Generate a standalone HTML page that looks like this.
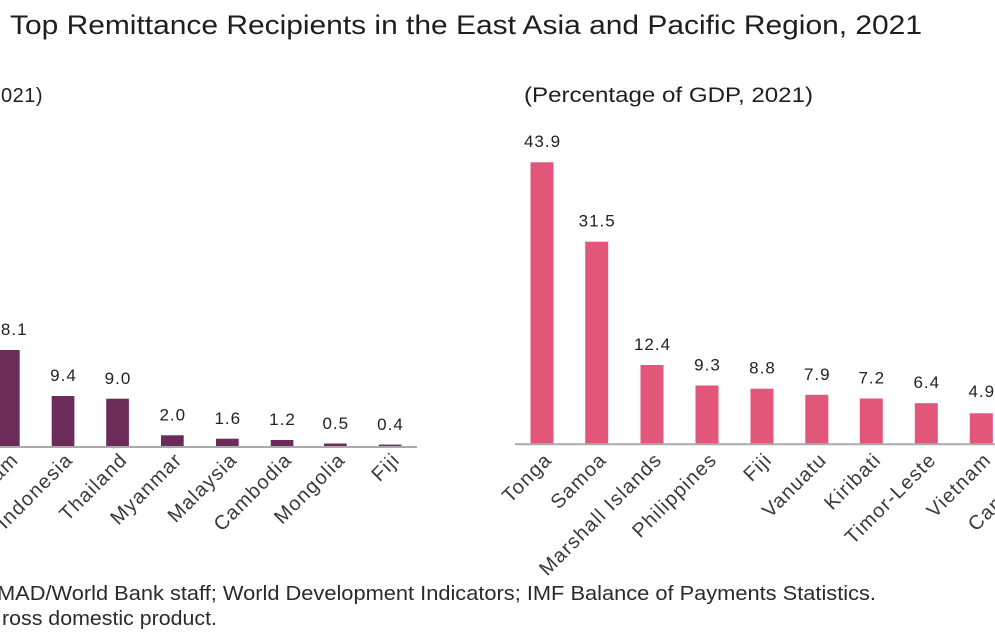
<!DOCTYPE html>
<html>
<head>
<meta charset="utf-8">
<style>
  html, body { margin: 0; padding: 0; background: #ffffff; }
  body { width: 995px; height: 640px; overflow: hidden; }
  svg { display: block; }
  text { font-family: "Liberation Sans", sans-serif; }
  .val { font-size: 17px; fill: #222; letter-spacing: 1px; }
  .cat { font-size: 20px; fill: #3a3a3a; letter-spacing: 1.2px; }
</style>
</head>
<body>
<svg width="995" height="640" viewBox="0 0 995 640" xmlns="http://www.w3.org/2000/svg">
  <rect x="0" y="0" width="995" height="640" fill="#ffffff"/>

  <!-- Title -->
  <text x="10" y="34" font-size="27" fill="#1e1e1e" textLength="912" lengthAdjust="spacingAndGlyphs">Top Remittance Recipients in the East Asia and Pacific Region, 2021</text>

  <!-- Subtitles -->
  <text x="43" y="102" font-size="20" fill="#1e1e1e" text-anchor="end" letter-spacing="0.5">(US$ billions, 2021)</text>
  <text x="524" y="102" font-size="21" fill="#1e1e1e" textLength="289" lengthAdjust="spacingAndGlyphs">(Percentage of GDP, 2021)</text>

  <!-- LEFT CHART -->
  <g fill="#6b2c5a">
    <rect x="-3" y="350" width="22.7" height="96"/>
    <rect x="51.7" y="396" width="22.7" height="50"/>
    <rect x="106.2" y="398.7" width="22.7" height="47.3"/>
    <rect x="161" y="435.3" width="22.7" height="10.7"/>
    <rect x="216" y="438.7" width="22.7" height="7.3"/>
    <rect x="270.7" y="440" width="22.7" height="6"/>
    <rect x="324" y="443.5" width="22.7" height="2.5"/>
    <rect x="378.7" y="444.6" width="22.7" height="1.4"/>
  </g>
  <line x1="0" y1="447" x2="417" y2="447" stroke="#ababab" stroke-width="2"/>

  <g class="val" text-anchor="middle">
    <text x="9" y="335">18.1</text>
    <text x="63.5" y="381">9.4</text>
    <text x="118" y="384">9.0</text>
    <text x="172.8" y="420.5">2.0</text>
    <text x="227.8" y="424">1.6</text>
    <text x="282.5" y="425">1.2</text>
    <text x="335.8" y="429">0.5</text>
    <text x="390.5" y="430">0.4</text>
  </g>

  <g class="cat" text-anchor="end">
    <text transform="translate(19.5,461) rotate(-45)">Vietnam</text>
    <text transform="translate(74,461) rotate(-45)">Indonesia</text>
    <text transform="translate(128.5,461) rotate(-45)">Thailand</text>
    <text transform="translate(183.3,461) rotate(-45)">Myanmar</text>
    <text transform="translate(238.3,461) rotate(-45)">Malaysia</text>
    <text transform="translate(293,461) rotate(-45)">Cambodia</text>
    <text transform="translate(346.3,461) rotate(-45)">Mongolia</text>
    <text transform="translate(401,461) rotate(-45)">Fiji</text>
  </g>

  <!-- RIGHT CHART -->
  <g fill="#e2567a">
    <rect x="530.5" y="162.3" width="23" height="281.7"/>
    <rect x="585.2" y="241.7" width="23" height="202.3"/>
    <rect x="640.5" y="365" width="23" height="79"/>
    <rect x="695.5" y="385.5" width="23" height="58.5"/>
    <rect x="750.5" y="388.7" width="23" height="55.3"/>
    <rect x="805.3" y="394.8" width="23" height="49.2"/>
    <rect x="859.8" y="398.5" width="23" height="45.5"/>
    <rect x="914.8" y="403.2" width="23" height="40.8"/>
    <rect x="969.8" y="413.3" width="23" height="30.7"/>
  </g>
  <line x1="515" y1="444.3" x2="995" y2="444.3" stroke="#ababab" stroke-width="2"/>

  <g class="val" text-anchor="middle">
    <text x="542.5" y="147">43.9</text>
    <text x="597.2" y="226.5">31.5</text>
    <text x="652.5" y="350">12.4</text>
    <text x="707.5" y="370.5">9.3</text>
    <text x="762.5" y="373.7">8.8</text>
    <text x="817.3" y="379.8">7.9</text>
    <text x="871.8" y="383.5">7.2</text>
    <text x="926.8" y="388.2">6.4</text>
    <text x="981.8" y="397">4.9</text>
  </g>

  <g class="cat" text-anchor="end">
    <text transform="translate(553,461) rotate(-45)">Tonga</text>
    <text transform="translate(607.7,461) rotate(-45)">Samoa</text>
    <text transform="translate(663,461) rotate(-45)">Marshall Islands</text>
    <text transform="translate(718,461) rotate(-45)">Philippines</text>
    <text transform="translate(773,461) rotate(-45)">Fiji</text>
    <text transform="translate(827.8,461) rotate(-45)">Vanuatu</text>
    <text transform="translate(882.3,461) rotate(-45)">Kiribati</text>
    <text transform="translate(937.3,461) rotate(-45)">Timor-Leste</text>
    <text transform="translate(992.3,461) rotate(-45)">Vietnam</text>
    <text transform="translate(1047.3,461) rotate(-45)">Cambodia</text>
  </g>

  <!-- Footer -->
  <text x="-3" y="600" font-size="20" fill="#2a2a2a" textLength="879" lengthAdjust="spacingAndGlyphs">MAD/World Bank staff; World Development Indicators; IMF Balance of Payments Statistics.</text>
  <text x="2" y="625" font-size="20" fill="#2a2a2a" textLength="215" lengthAdjust="spacingAndGlyphs">ross domestic product.</text>
</svg>
</body>
</html>
